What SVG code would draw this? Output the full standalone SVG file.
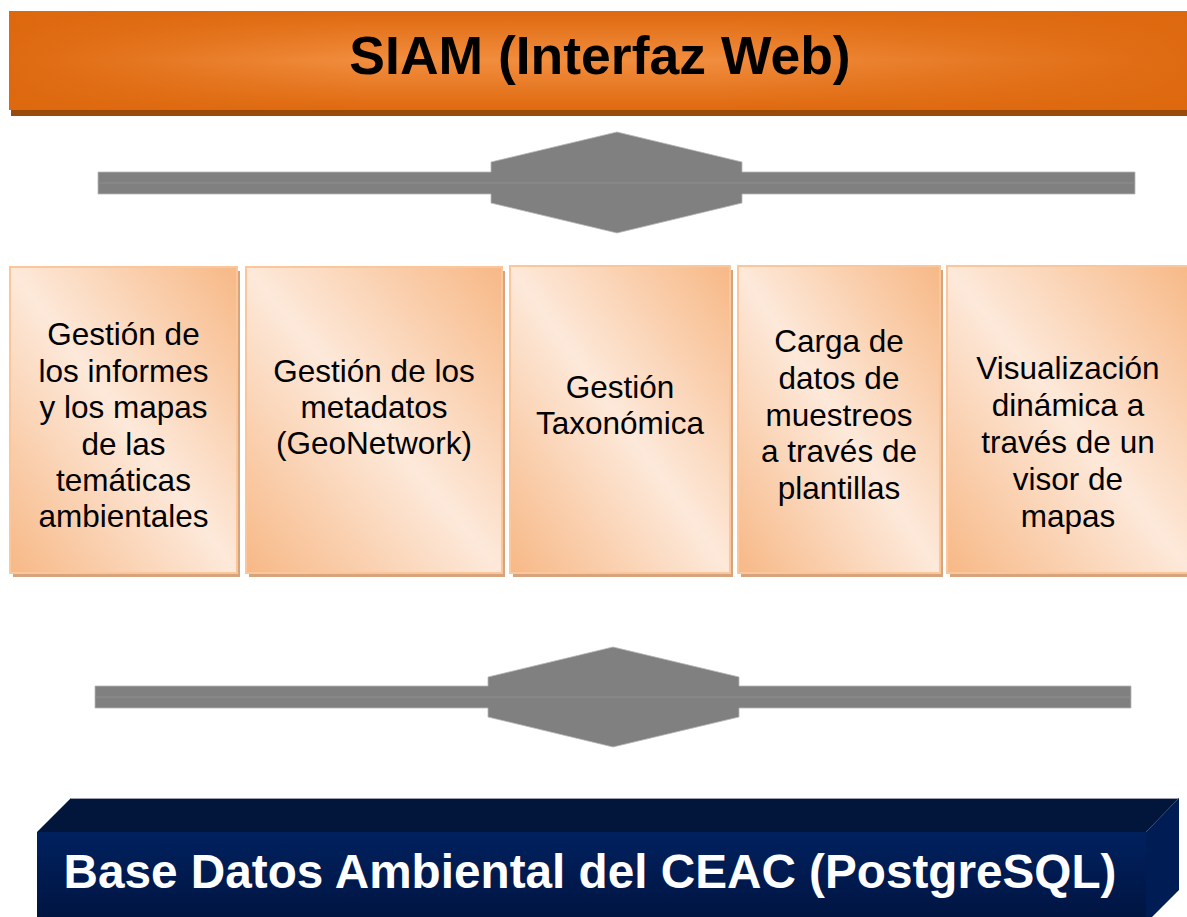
<svg xmlns="http://www.w3.org/2000/svg" width="1187" height="917" viewBox="0 0 1187 917">
  <defs>
    <linearGradient id="barV" x1="0" y1="0" x2="0" y2="1">
      <stop offset="0" stop-color="#df690f"/>
      <stop offset="0.5" stop-color="#f18d3e"/>
      <stop offset="1" stop-color="#df690f"/>
    </linearGradient>
    <linearGradient id="barH" x1="0" y1="0" x2="1" y2="0">
      <stop offset="0" stop-color="#dd680e" stop-opacity="0.95"/>
      <stop offset="0.3" stop-color="#dd680e" stop-opacity="0"/>
      <stop offset="0.6" stop-color="#dd680e" stop-opacity="0"/>
      <stop offset="1" stop-color="#dd680e" stop-opacity="0.95"/>
    </linearGradient>
    <linearGradient id="boxG" x1="1" y1="0" x2="0" y2="1">
      <stop offset="0" stop-color="#f7b886"/>
      <stop offset="0.5" stop-color="#fde9da"/>
      <stop offset="1" stop-color="#f7b886"/>
    </linearGradient>
    <linearGradient id="frontG" x1="0" y1="0" x2="0" y2="1">
      <stop offset="0" stop-color="#00215f"/>
      <stop offset="1" stop-color="#001440"/>
    </linearGradient>
    <style>
      .box { fill: url(#boxG); stroke: #fbc79a; stroke-width: 2; }
      .shadow { fill: #d6a37c; }
      .lbl { font-family: "Liberation Sans", Arial, sans-serif; font-size: 31.5px; fill: #000; text-anchor: middle; }
      .conn { fill: #808080; stroke: #b8b8b8; stroke-width: 0.8; }
      .mid { stroke: #8e8e8e; stroke-width: 1; }
    </style>
  </defs>

  <g id="siam">
    <rect x="11" y="104" width="1176" height="12" fill="#9a4a0a"/>
    <rect x="9" y="11" width="1178" height="99" fill="url(#barV)"/>
    <rect x="9" y="11" width="1178" height="99" fill="url(#barH)"/>
    <text x="600" y="74" font-family="'Liberation Sans', Arial, sans-serif" font-weight="bold" font-size="53.5" text-anchor="middle" fill="#000">SIAM (Interfaz Web)</text>
  </g>

  <g id="connectors">
    <path class="conn" d="M98,172 H491 V162 L617,132 L742,162 V172 H1135 V194 H742 V203 L617,233 L491,203 V194 H98 Z"/>
    <line class="mid" x1="98" y1="183" x2="1135" y2="183"/>
    <path class="conn" d="M95,686 H488 V677 L613,647 L739,677 V686 H1131 V708 H739 V717 L613,747 L488,717 V708 H95 Z"/>
    <line class="mid" x1="95" y1="697" x2="1131" y2="697"/>
  </g>

  <g id="box1">
    <rect class="shadow" x="13" y="271" width="227" height="306"/>
    <rect class="box" x="10" y="267" width="227" height="306"/>
    <text class="lbl" x="123.5" y="345">Gestión de</text>
    <text class="lbl" x="123.5" y="381.5">los informes</text>
    <text class="lbl" x="123.5" y="418">y los mapas</text>
    <text class="lbl" x="123.5" y="454.5">de las</text>
    <text class="lbl" x="123.5" y="491">temáticas</text>
    <text class="lbl" x="123.5" y="527">ambientales</text>
  </g>

  <g id="box2">
    <rect class="shadow" x="249" y="271" width="256" height="306"/>
    <rect class="box" x="246" y="267" width="256" height="306"/>
    <text class="lbl" x="374" y="382">Gestión de los</text>
    <text class="lbl" x="374" y="418">metadatos</text>
    <text class="lbl" x="374" y="454">(GeoNetwork)</text>
  </g>

  <g id="box3">
    <rect class="shadow" x="513" y="270" width="220" height="307"/>
    <rect class="box" x="510" y="266" width="220" height="307"/>
    <text class="lbl" x="620" y="398">Gestión</text>
    <text class="lbl" x="620" y="434">Taxonómica</text>
  </g>

  <g id="box4">
    <rect class="shadow" x="741" y="270" width="202" height="307"/>
    <rect class="box" x="738" y="266" width="202" height="307"/>
    <text class="lbl" x="839" y="352">Carga de</text>
    <text class="lbl" x="839" y="389">datos de</text>
    <text class="lbl" x="839" y="426">muestreos</text>
    <text class="lbl" x="839" y="462">a través de</text>
    <text class="lbl" x="839" y="499">plantillas</text>
  </g>

  <g id="box5">
    <rect class="shadow" x="950" y="270" width="245" height="307"/>
    <rect class="box" x="947" y="266" width="245" height="307"/>
    <text class="lbl" x="1068" y="379">Visualización</text>
    <text class="lbl" x="1068" y="416">dinámica a</text>
    <text class="lbl" x="1068" y="453">través de un</text>
    <text class="lbl" x="1068" y="490">visor de</text>
    <text class="lbl" x="1068" y="527">mapas</text>
  </g>

  <g id="basedatos">
    <polygon points="37,832 71,798 1179,798 1146,832" fill="#02163c"/>
    <line x1="71" y1="798.5" x2="1179" y2="798.5" stroke="#9ca2b4" stroke-width="1"/>
    <rect x="37" y="832" width="1109" height="90" fill="url(#frontG)"/>
    <polygon points="1146,832 1179,798 1179,890 1146,923" fill="#001c55"/>
    <text x="590" y="888" font-family="'Liberation Sans', Arial, sans-serif" font-weight="bold" font-size="47.7" text-anchor="middle" fill="#ffffff">Base Datos Ambiental del CEAC (PostgreSQL)</text>
  </g>
</svg>
